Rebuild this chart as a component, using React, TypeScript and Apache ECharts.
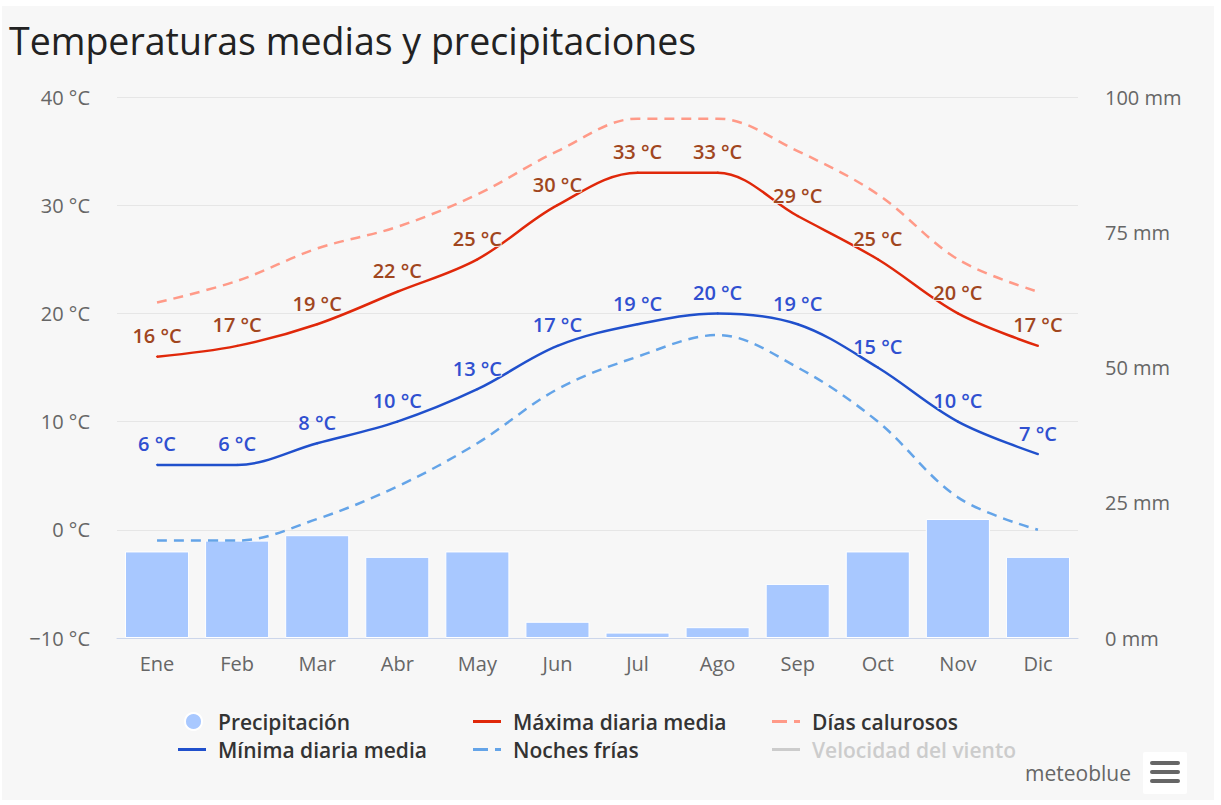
import React, { useEffect, useRef } from "react";
import * as echarts from "echarts";

const months = ["Ene", "Feb", "Mar", "Abr", "May", "Jun", "Jul", "Ago", "Sep", "Oct", "Nov", "Dic"];
const precipitation = [16, 18, 19, 15, 16, 3, 1, 2, 10, 16, 22, 15];
const maxTemp = [16, 17, 19, 22, 25, 30, 33, 33, 29, 25, 20, 17];
const minTemp = [6, 6, 8, 10, 13, 17, 19, 20, 19, 15, 10, 7];
const hotDays = [21, 23, 26, 28, 31, 35, 38, 38, 35, 31, 25, 22];
const coldNights = [-1, -1, 1, 4, 8, 13, 16, 18, 15, 10, 3, 0];
const windSpeed: number[] = [];

const FONT = "'Open Sans', 'Noto Sans', sans-serif";
const SOLID_ICON = "path://M0,0h28v3h-28z";
const DASH_ICON = "path://M0,0h15v3h-15zM22,0h6v3h-6z";

export default function App() {
  const ref = useRef<HTMLDivElement>(null);
  useEffect(() => {
    if (!ref.current) return;
    const chart = echarts.init(ref.current, undefined, { renderer: "svg" });
    const legendText = { color: "#333", fontSize: 21, fontWeight: 600, fontFamily: FONT, padding: [0, 0, 0, 7] };
    const mkLegend = (name: string, left: number, top: number, icon: string, extra: any = {}) => ({
      data: [{ name, icon }],
      left,
      top,
      orient: "horizontal",
      itemWidth: 28,
      itemHeight: 3,
      padding: 0,
      symbolKeepAspect: false,
      textStyle: { ...legendText },
      inactiveColor: "#cccccc",
      ...extra,
    });
    const labelStyle = (color: string) => ({
      show: true,
      position: "top",
      distance: 10,
      color,
      fontSize: 20,
      fontWeight: 600,
      fontFamily: FONT,
      formatter: (p: any) => `${p.value} °C`,
      textBorderColor: "rgba(247,247,247,0.85)",
      textBorderWidth: 2,
    });
    chart.setOption({
      animation: false,
      backgroundColor: "transparent",
      textStyle: { fontFamily: FONT },
      title: {
        text: "Temperaturas medias y precipitaciones",
        left: 9,
        top: 21,
        padding: 0,
        textStyle: { fontSize: 37.5, fontWeight: "normal", color: "#222", fontFamily: FONT },
      },
      grid: { left: 117, right: 143, top: 97, bottom: 167 },
      legend: [
        mkLegend("Precipitación", 184, 711, "circle", {
          itemWidth: 17,
          itemHeight: 17,
          textStyle: { ...legendText, padding: [0, 0, 0, 11] },
        }),
        mkLegend("Máxima diaria media", 473, 711, SOLID_ICON),
        mkLegend("Días calurosos", 772, 711, DASH_ICON),
        mkLegend("Mínima diaria media", 178, 739, SOLID_ICON),
        mkLegend("Noches frías", 473, 739, DASH_ICON),
        mkLegend("Velocidad del viento", 772, 739, SOLID_ICON, {
          selected: { "Velocidad del viento": false },
        }),
      ],
      xAxis: {
        type: "category",
        data: months,
        axisLine: { onZero: false, lineStyle: { color: "#ccd6eb" } },
        axisTick: { show: false },
        axisLabel: { color: "#666", fontSize: 20, margin: 15, fontFamily: FONT },
      },
      yAxis: [
        {
          type: "value",
          min: -10,
          max: 40,
          interval: 10,
          axisLabel: {
            color: "#666",
            fontSize: 20,
            margin: 27,
            fontFamily: FONT,
            formatter: (v: number) => (v < 0 ? `\u2212${Math.abs(v)} °C` : `${v} °C`),
          },
          splitLine: { lineStyle: { color: "#e6e6e6" } },
          axisLine: { show: false },
          axisTick: { show: false },
        },
        {
          type: "value",
          min: 0,
          max: 100,
          interval: 25,
          position: "right",
          axisLabel: {
            color: "#666",
            fontSize: 20,
            margin: 27,
            fontFamily: FONT,
            formatter: "{value} mm",
          },
          splitLine: { show: false },
          axisLine: { show: false },
          axisTick: { show: false },
        },
      ],
      series: [
        {
          name: "Precipitación",
          type: "bar",
          yAxisIndex: 1,
          data: precipitation,
          barCategoryGap: "20%",
          itemStyle: { color: "#a8c8ff", borderColor: "#ffffff", borderWidth: 1 },
          z: 1,
        },
        {
          name: "Máxima diaria media",
          type: "line",
          data: maxTemp,
          smooth: 0.35,
          symbol: "circle",
          symbolSize: 2,
          showSymbol: true,
          lineStyle: { color: "#e0280a", width: 2.5 },
          itemStyle: { color: "#e0280a" },
          label: labelStyle("#a0461e"),
          z: 5,
        },
        {
          name: "Días calurosos",
          type: "line",
          data: hotDays,
          smooth: 0.35,
          symbol: "none",
          lineStyle: { color: "#ff9a88", width: 2.5, type: [10, 7] },
          itemStyle: { color: "#ff9a88" },
          z: 3,
        },
        {
          name: "Mínima diaria media",
          type: "line",
          data: minTemp,
          smooth: 0.35,
          symbol: "circle",
          symbolSize: 2,
          showSymbol: true,
          lineStyle: { color: "#2050cc", width: 2.5 },
          itemStyle: { color: "#2050cc" },
          label: labelStyle("#3050d0"),
          z: 5,
        },
        {
          name: "Noches frías",
          type: "line",
          data: coldNights,
          smooth: 0.35,
          symbol: "none",
          lineStyle: { color: "#64a4e8", width: 2.5, type: [10, 7] },
          itemStyle: { color: "#64a4e8" },
          z: 3,
        },
        {
          name: "Velocidad del viento",
          type: "line",
          data: windSpeed,
          symbol: "none",
          lineStyle: { color: "#cccccc", width: 2.5 },
          itemStyle: { color: "#cccccc" },
        },
      ],
      graphic: [
        {
          type: "text",
          left: 1025,
          top: 762,
          style: { text: "meteoblue", fill: "#666", fontSize: 21, fontFamily: FONT },
        },
        {
          type: "rect",
          shape: { x: 1143, y: 752, width: 44, height: 42, r: 2 },
          style: { fill: "#ffffff" },
        },
        { type: "rect", shape: { x: 1150, y: 761, width: 30, height: 4, r: 2 }, style: { fill: "#666" } },
        { type: "rect", shape: { x: 1150, y: 770, width: 30, height: 4, r: 2 }, style: { fill: "#666" } },
        { type: "rect", shape: { x: 1150, y: 779, width: 30, height: 4, r: 2 }, style: { fill: "#666" } },
      ],
    });
    return () => chart.dispose();
  }, []);
  return (
    <div style={{ position: "absolute", left: 0, top: 0, width: 1221, height: 805, background: "#ffffff" }}>
      <div style={{ position: "absolute", left: 2, top: 6, width: 1212, height: 794, background: "#f7f7f7" }} />
      <div ref={ref} style={{ position: "absolute", left: 0, top: 0, width: 1221, height: 805 }} />
    </div>
  );
}
